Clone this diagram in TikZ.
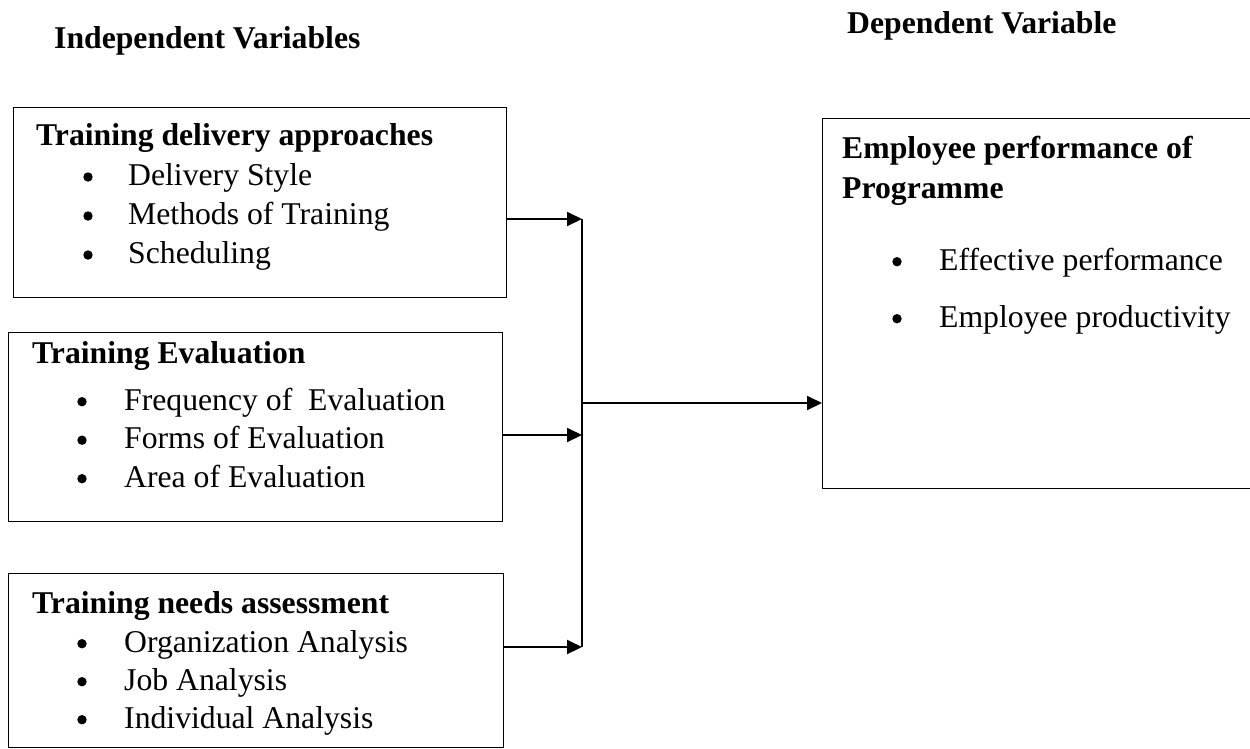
\documentclass[tikz,border=0pt]{standalone}
\usepackage{fontspec}
\setmainfont{Liberation Serif}
\usetikzlibrary{arrows.meta}
\begin{document}
\begin{tikzpicture}[x=1pt,y=-1pt,
  box/.style={draw,line width=1.3pt,anchor=north west,inner sep=0pt},
  head/.style={anchor=base west,inner sep=0pt,font=\fontsize{31.7}{38}\selectfont\bfseries},
  item/.style={anchor=base west,inner sep=0pt,font=\fontsize{31.7}{38}\selectfont},
  arr/.style={line width=2pt,-{Triangle[length=15pt,width=14pt]}}]
\useasboundingbox (0,0) rectangle (1250,748);
\clip (0,0) rectangle (1250,748);
% titles
\node[head] (iv) at (54,48) {Independent Variables};
\node[head] (dv) at (847,33) {Dependent Variable};
% boxes
\node[box,minimum width=493pt,minimum height=190pt] (tda) at (13,107) {};
\node[box,minimum width=494pt,minimum height=189pt] (te) at (8,332) {};
\node[box,minimum width=495pt,minimum height=174pt] (tna) at (8,573) {};
\node[box,minimum width=440pt,minimum height=370pt] (emp) at (822,118) {};
% training delivery approaches
\node[head] (tda-h) at (36,145) {Training delivery approaches};
\foreach \t [count=\i] in {Delivery Style,Methods of Training,Scheduling}{
  \node[item] (tda-\i) at (128,{146+39*\i}) {\t};
  \fill (88,{138+39*\i}) circle (4.7pt);
}
% training evaluation
\node[head] (te-h) at (32,363) {Training Evaluation};
\foreach \t [count=\i] in {Frequency of\ \ Evaluation,Forms of Evaluation,Area of Evaluation}{
  \node[item] (te-\i) at (124,{371.5+38.5*\i}) {\t};
  \fill (82,{363.2+38.5*\i}) circle (4.7pt);
}
% training needs assessment
\node[head] (tna-h) at (32,613) {Training needs assessment};
\foreach \t [count=\i] in {Organization Analysis,Job Analysis,Individual Analysis}{
  \node[item] (tna-\i) at (124,{614+38*\i}) {\t};
  \fill (82,{605.7+38*\i}) circle (4.7pt);
}
% employee performance
\node[head] (emp-h1) at (842,158) {Employee performance of};
\node[head] (emp-h2) at (842,198) {Programme};
\node[item] (emp-1) at (939,270) {Effective performance};
\node[item] (emp-2) at (939,327) {Employee productivity};
\fill (897,261.7) circle (4.7pt);
\fill (897,318.7) circle (4.7pt);
% connectors
\coordinate (j1) at (582,219);
\coordinate (j2) at (582,435);
\coordinate (j3) at (582,647);
\coordinate (jm) at (583,403);
\draw[arr] (tda.east |- j1) -- (j1);
\draw[arr] (te.east |- j2) -- (j2);
\draw[arr] (tna.east |- j3) -- (j3);
\draw[line width=1.3pt] (j1) -- (j3);
\draw[arr] (jm) -- (emp.west |- jm);
\end{tikzpicture}
\end{document}
